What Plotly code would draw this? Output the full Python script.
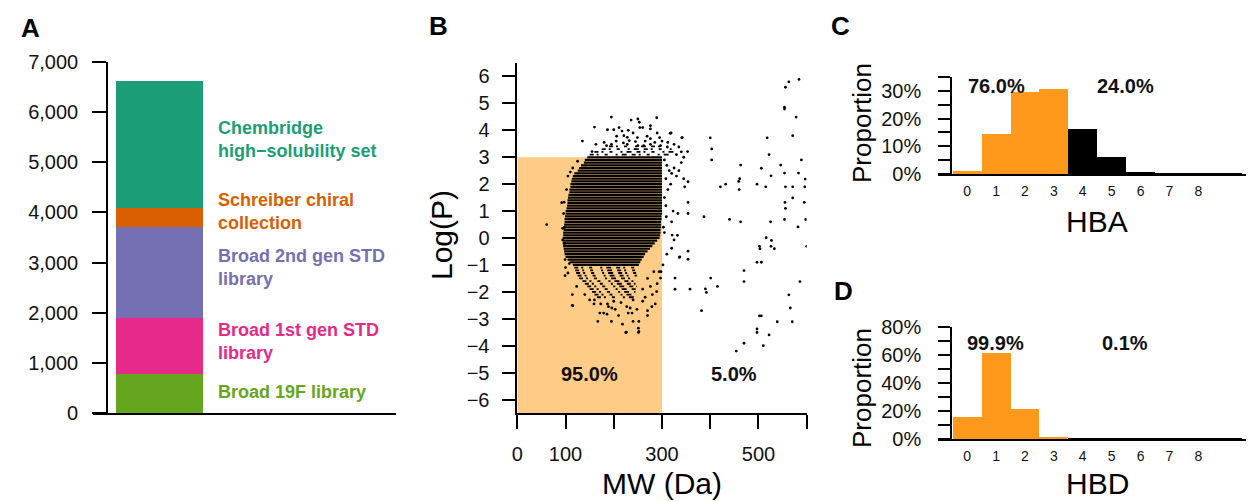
import plotly.graph_objects as go

FONT = "Liberation Sans, Arial, sans-serif"
OFF = 8                      # page body margin of the browser
W, H = 1254 - OFF, 501 - OFF

# ---------------- Panel A data ----------------
lib_names = ["Broad 19F library", "Broad 1st gen STD<br>library", "Broad 2nd gen STD<br>library",
             "Schreiber chiral<br>collection", "Chembridge<br>high\u2212solubility set"]
lib_counts = [780, 1115, 1815, 385, 2525]
lib_colors = ["#66A61E", "#E7298A", "#7570B3", "#D95F02", "#1B9E77"]
lib_label_y = [392, 341, 267, 212, 139]   # label centre (px)
a_ticks = [0, 1000, 2000, 3000, 4000, 5000, 6000, 7000]

# ---------------- Panel B data ----------------
mw_cut, logp_cut = 300, 3
# dense core drawn as rows of logP (values are rounded, giving streaks)
core_logp = [3.0, 2.9, 2.8, 2.7, 2.6, 2.5, 2.4, 2.3, 2.2, 2.1, 2.0, 1.9, 1.8, 1.7, 1.6, 1.5,
             1.4, 1.3, 1.2, 1.1, 1.0, 0.9, 0.8, 0.7, 0.6, 0.5, 0.4, 0.3, 0.2, 0.1, 0.0,
             -0.1, -0.2, -0.3, -0.4, -0.5, -0.6, -0.7, -0.8, -0.9, -1.0]
core_lo = [145, 140, 138, 132, 128, 125, 118, 115, 113, 112, 110, 110, 108, 108, 106, 105,
           104, 104, 103, 102, 100, 100, 99, 98, 98, 97, 96, 96, 95, 95, 94,
           94, 94, 95, 96, 97, 98, 100, 104, 108, 115]
core_hi = [300, 300, 300, 300, 300, 300, 300, 300, 300, 300, 300, 300, 300, 300, 300, 300,
           300, 300, 300, 300, 300, 300, 299, 299, 298, 298, 298, 297, 297, 296, 295,
           290, 285, 280, 275, 270, 265, 262, 258, 255, 252]
fringe_logp = [3.4, 3.3, 3.2, 3.1, -1.1, -1.2, -1.3, -1.4, -1.5, -1.6, -1.7, -1.8, -1.9, -2.0, -2.1, -2.2]
fringe_lo = [190, 175, 160, 150, 118, 120, 122, 125, 128, 135, 140, 145, 150, 155, 160, 165]
fringe_hi = [300, 320, 330, 320, 250, 248, 250, 248, 245, 250, 245, 248, 250, 245, 240, 245]
sparse_mw = [195, 250, 289, 253, 160, 187, 200, 211, 217, 254, 260, 276, 276, 319, 206, 221, 228, 249, 269, 276,
             295, 342, 163, 185, 195, 220, 228, 250, 262, 276, 297, 311, 325, 335, 155, 340, 330, 345, 317, 341,
             353, 232, 240, 205, 180, 245, 265, 285, 300, 312, 135, 236, 230, 290,
             354, 347, 354, 354, 333, 323, 320, 309, 321, 332, 325, 310, 320, 337, 354, 354, 327, 327, 358,
             305, 310, 315, 320, 308, 318, 312, 325, 330, 305, 308, 303, 305, 336, 340, 335, 345, 302, 298,
             294, 297, 289, 276, 283,
             584, 563, 556, 554, 554, 578, 571, 400, 518, 403, 403, 522, 589, 463, 546, 506, 554, 583, 526,
             461, 459, 597, 432, 421, 460, 497, 515, 556, 571, 596, 571, 555, 556, 595, 387, 440, 463, 525,
             554, 598, 582, 516, 527, 502, 503, 526, 533, 600, 497, 506, 470, 470, 586, 401, 415, 390, 392,
             563, 382, 566, 502, 506, 539, 570, 497, 497, 522, 470, 510, 454,
             61, 92, 96, 94, 94, 97, 98, 98, 99, 99, 114, 114, 123, 140, 100, 105, 108, 102, 105, 115, 110, 125,
             115, 167, 195, 218, 225, 251, 251, 240, 171, 179, 186, 210, 230, 238, 270, 270, 252, 227, 234,
             248, 189, 196, 203, 173, 187, 159, 286, 279, 226, 252, 160, 200, 215, 240, 260, 150, 265, 280,
             290, 270, 260]
sparse_logp = [4.49, 4.42, 4.47, 4.30, 4.12, 4.02, 4.02, 4.10, 3.97, 4.10, 4.10, 4.17, 4.05, 3.90, 3.78, 3.80,
               3.74, 3.73, 3.78, 3.69, 3.73, 3.73, 3.48, 3.43, 3.48, 3.53, 3.48, 3.43, 3.43, 3.48, 3.43, 3.38,
               3.48, 3.38, 3.21, 3.20, 3.10, 3.00, 3.89, 3.72, 3.21, 3.62, 3.90, 3.60, 3.55, 3.58, 3.60, 3.55,
               3.60, 3.55, 3.60, 4.38, 4.00, 3.90,
               2.09, 1.90, 1.32, 0.91, 0.91, 1.00, 0.60, 0.79, 0.11, 0.10, -0.07, -0.60, -0.38, -0.70, -0.49,
               -0.79, -1.49, -1.90, -1.90, 2.9, 2.7, 2.5, 2.4, 2.2, 2.0, 1.8, 2.6, 2.3, 1.5, 1.2, 0.4, 0.2,
               -0.72, 2.8, 2.5, 2.2, -1.0, -1.25, -1.25, -1.49, -1.99, -1.8, -1.25,
               5.89, 5.80, 5.60, 4.86, 4.79, 4.49, 3.80, 3.72, 3.72, 3.31, 2.90, 3.10, 2.90, 2.71, 2.71, 2.59,
               2.41, 2.41, 2.31, 2.20, 2.10, 2.19, 2.00, 1.90, 1.80, 2.00, 1.90, 1.90, 1.90, 1.90, 1.49, 1.32,
               1.10, 1.32, 0.79, 0.69, 0.60, 0.60, 0.69, 0.69, 0.41, 0.01, -0.09, -0.31, -0.40, -0.31, -0.40,
               -0.31, -0.90, -0.90, -1.21, -1.62, -1.62, -1.49, -1.80, -1.89, -2.02, -2.11, -2.70, -2.60,
               -2.89, -2.89, -3.11, -3.11, -3.38, -3.51, -3.60, -3.91, -4.00, -4.20,
               0.5, 1.31, 0.91, 0.36, -0.07, 1.33, 0.4, -0.2, -0.8, -1.4, -2.1, -2.5, -1.8, -2.1, -1.1, -1.3,
               -0.95, 1.8, 2.3, 2.6, 2.45, 2.85,
               -2.52, -3.10, -3.10, -3.20, -3.51, -3.51, -3.35, -3.10, -2.79, -2.79, -2.83, -2.88, -2.79,
               -2.79, -2.70, -2.88, -3.10, -2.55, -2.60, -2.65, -2.55, -2.60, -2.65, -2.45, -2.45, -2.45,
               -2.45, -2.55, -3.50, -3.47, -2.3, -2.35, -2.4, -2.3, -2.35, -2.3, -2.2, -2.1, -1.7, -1.5, -1.9]
b_xticks = [0, 100, 200, 300, 400, 500, 600]
b_xtext = ["0", "100", "", "300", "", "500", ""]
b_yticks = [-6, -5, -4, -3, -2, -1, 0, 1, 2, 3, 4, 5, 6]
b_pct_in, b_pct_out = "95.0%", "5.0%"

# ---------------- Panel C / D data ----------------
hb_bins = [0, 1, 2, 3, 4, 5, 6, 7, 8, 9]
hb_labels = ["0", "1", "2", "3", "4", "5", "6", "7", "8"]
hba_prop = [0.012, 0.143, 0.297, 0.307, 0.164, 0.060, 0.008, 0.003, 0.003, 0.002]
hbd_prop = [0.154, 0.616, 0.215, 0.014, 0.0003, 0.0002, 0.0002, 0.0001, 0.0001, 0.0001]
hba_cut, hbd_cut = 3, 3
c_pct = ["76.0%", "24.0%"]
d_pct = ["99.9%", "0.1%"]

ORANGE = "#FF991C"
LIGHT_ORANGE = "#FFCC88"


def px_x(p):
    return (p - OFF) / W


def px_y(p):
    return 1 - (p - OFF) / H


fig = go.Figure()

# Panel A stacked bar
for name, cnt, col in zip(lib_names, lib_counts, lib_colors):
    fig.add_trace(go.Bar(x=[0], y=[cnt], width=[1], marker=dict(color=col, line=dict(width=0)),
                         xaxis="x", yaxis="y", name=name, hoverinfo="skip"))

# Panel B: row segments
def rows_to_xy(ys, los, his):
    xs, yy = [], []
    for y, a, b in zip(ys, los, his):
        xs += [a, b, None]
        yy += [y, y, None]
    return xs, yy

cx, cy = rows_to_xy(core_logp, core_lo, core_hi)
fig.add_trace(go.Scatter(x=cx, y=cy, mode="lines", line=dict(color="black", width=2.2),
                         xaxis="x2", yaxis="y2", hoverinfo="skip"))
fx, fy = rows_to_xy(fringe_logp, fringe_lo, fringe_hi)
fig.add_trace(go.Scatter(x=fx, y=fy, mode="lines",
                         line=dict(color="black", width=1.8, dash="4px,3px,2px,6px,3px,8px,2px,4px,5px,5px"),
                         xaxis="x2", yaxis="y2", hoverinfo="skip"))
fig.add_trace(go.Scatter(x=sparse_mw, y=sparse_logp, mode="markers",
                         marker=dict(color="black", size=2.8, line=dict(width=0)),
                         xaxis="x2", yaxis="y2", hoverinfo="skip"))

# Panel C / D histograms
fig.add_trace(go.Bar(x=hb_bins, y=hba_prop, width=1,
                     marker=dict(color=[ORANGE if b <= hba_cut else "black" for b in hb_bins], line=dict(width=0)),
                     xaxis="x3", yaxis="y3", hoverinfo="skip"))
fig.add_trace(go.Bar(x=hb_bins, y=hbd_prop, width=1,
                     marker=dict(color=[ORANGE if b <= hbd_cut else "black" for b in hb_bins], line=dict(width=0)),
                     xaxis="x4", yaxis="y4", hoverinfo="skip"))

axis_common = dict(showgrid=False, zeroline=False, showline=True, linecolor="black", linewidth=1.6,
                   tickcolor="black", tickwidth=1.6, tickfont=dict(family=FONT, size=20, color="#111"),
                   automargin=False)

# Panel A axes
a_unit = 87.0
fig.update_layout(
    xaxis=dict(domain=[px_x(93), px_x(396)], range=[-(159.5 - 93) / a_unit, (396 - 159.5) / a_unit],
               showticklabels=False, ticks="", anchor="y", fixedrange=True,
               **{k: v for k, v in axis_common.items() if k != "tickfont"}),
    yaxis=dict(domain=[px_y(413), px_y(62)], range=[0, 7000], anchor="free", position=px_x(107),
               tickvals=a_ticks, tickformat=",", ticks="outside", ticklen=14, ticklabelstandoff=10, **axis_common),
    xaxis2=dict(domain=[px_x(517.3), px_x(806.7)], range=[0, 600], anchor="y2", tickvals=b_xticks,
                ticktext=b_xtext, ticks="outside", ticklen=14, ticklabelstandoff=8, **axis_common),
    yaxis2=dict(domain=[px_y(413), px_y(63)], range=[-6.5, 6.5], anchor="x2", tickvals=b_yticks,
                ticks="outside", ticklen=14, ticklabelstandoff=8, **axis_common),
)

c_unit = 28.9
c_x0 = 967.15
hist_x = dict(domain=[px_x(938), px_x(1253)], range=[-(c_x0 - 938) / c_unit, (1253 - c_x0) / c_unit],
              tickvals=list(range(len(hb_labels))), ticktext=hb_labels, ticks="",
              showgrid=False, zeroline=False, showline=True, linecolor="black", linewidth=1.6,
              tickfont=dict(family=FONT, size=14, color="#111"), ticklabelstandoff=3, automargin=False)
fig.update_layout(
    xaxis3=dict(anchor="y3", **hist_x),
    yaxis3=dict(domain=[px_y(174), px_y(77)], range=[0, 0.35], anchor="free", position=px_x(951),
                tickvals=[0, 0.05, 0.1, 0.15, 0.2, 0.25, 0.3, 0.35],
                ticktext=["0%", "", "10%", "", "20%", "", "30%", ""],
                ticks="outside", ticklen=12, ticklabelstandoff=13, **axis_common),
    xaxis4=dict(anchor="y4", **hist_x),
    yaxis4=dict(domain=[px_y(439), px_y(327.3)], range=[0, 0.8], anchor="free", position=px_x(951),
                tickvals=[0, 0.1, 0.2, 0.3, 0.4, 0.5, 0.6, 0.7, 0.8],
                ticktext=["0%", "", "20%", "", "40%", "", "60%", "", "80%"],
                ticks="outside", ticklen=12, ticklabelstandoff=13, **axis_common),
)

# shaded drug-like region in B
fig.add_shape(type="rect", xref="x2", yref="y2", x0=0, x1=mw_cut, y0=-6.5, y1=logp_cut,
              fillcolor=LIGHT_ORANGE, line=dict(width=0), layer="below")


def note(text, x, y, size, color="black", angle=0, xanchor="center"):
    return dict(text=text, x=px_x(x), y=px_y(y), xref="paper", yref="paper", textangle=angle,
                xanchor=xanchor, yanchor="middle", align="left", showarrow=False,
                font=dict(family=FONT, size=size, color=color))


ann = []
for letter, x, y in [("A", 30, 28), ("B", 438, 26), ("C", 840, 26), ("D", 843, 291)]:
    ann.append(note(f"<b>{letter}</b>", x, y, 26))
for name, col, ly in zip(lib_names, lib_colors, lib_label_y):
    ann.append(note(f"<b>{name}</b>", 216, ly, 18, col, xanchor="left"))
ann += [
    note("Log(P)", 441, 235, 30, angle=-90),
    note("MW (Da)", 662, 483, 30),
    note("Proportion", 862, 123, 26, angle=-90),
    note("Proportion", 862, 388, 26, angle=-90),
    note("HBA", 1097, 222, 30),
    note("HBD", 1097, 483, 30),
]
for txt, x, y in [(b_pct_in, 589, 374), (b_pct_out, 734, 374),
                  (c_pct[0], 996, 86), (c_pct[1], 1125, 86),
                  (d_pct[0], 995, 343), (d_pct[1], 1125, 343)]:
    ann.append(note(f"<b>{txt}</b>", x, y, 20, "#111"))

fig.update_layout(
    width=W, height=H, margin=dict(l=0, r=0, t=0, b=0, autoexpand=False),
    paper_bgcolor="white", plot_bgcolor="white",
    showlegend=False, barmode="stack", bargap=0,
    annotations=ann, font=dict(family=FONT),
)

fig.write_html("out.html")
